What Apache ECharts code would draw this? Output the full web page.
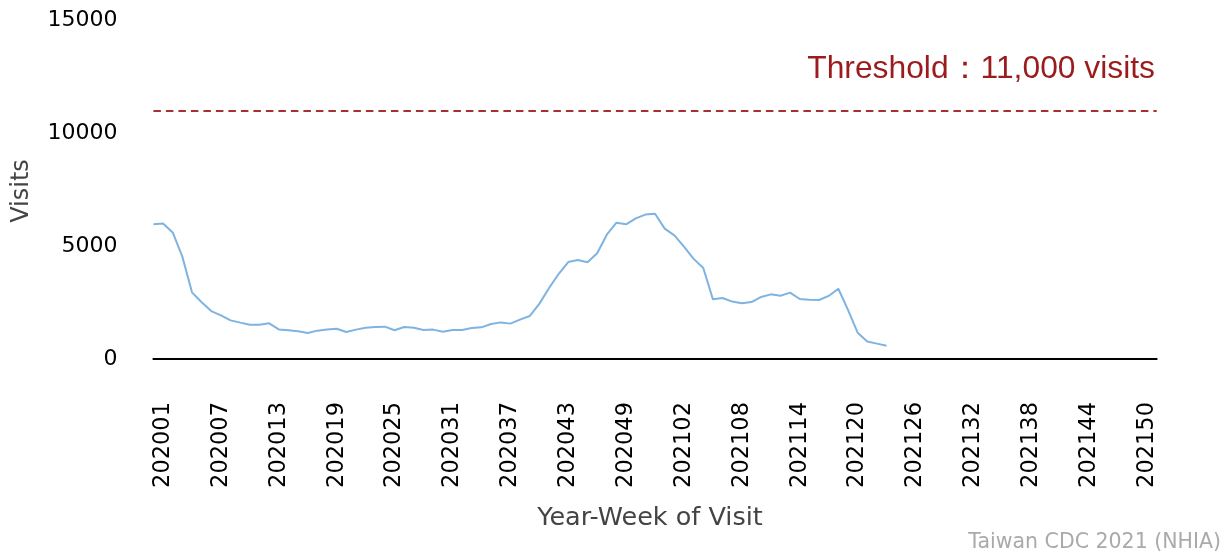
<!DOCTYPE html>
<html>
<head>
<meta charset="utf-8">
<script src="https://cdn.jsdelivr.net/npm/echarts@6/dist/echarts.min.js"></script>
<style>
html,body{margin:0;padding:0;background:#fff;}
#chart{width:1231px;height:559px;}
</style>
</head>
<body>
<div id="chart"></div>
<script>
// Year-week categories (first slot is the week before 202001, as drawn)
const years = [2020, 2021];
const weeksPerYear = [53, 51];
const categories = ['201952'];
years.forEach((y, k) => {
  for (let w = 1; w <= weeksPerYear[k]; w++) {
    categories.push(String(y) + String(w).padStart(2, '0'));
  }
});

// Weekly visits
const visits = [
  5960, 6000, 5600, 4530, 2950, 2510, 2120, 1930, 1710, 1610,
  1520, 1520, 1580, 1310, 1270, 1225, 1150, 1255, 1310, 1340,
  1195, 1300, 1385, 1415, 1430, 1270, 1415, 1385, 1285, 1300,
  1210, 1285, 1285, 1370, 1400, 1550, 1620, 1565, 1740, 1900,
  2440, 3130, 3760, 4290, 4380, 4280, 4680, 5500, 6030, 5960,
  6220, 6390, 6430, 5770, 5470, 4970, 4430, 4030, 2640, 2700,
  2540, 2465, 2520, 2745, 2860, 2800, 2935, 2655, 2625, 2610,
  2790, 3110, 2170, 1165, 770, 680, 590
];

const threshold = 11000;
const yTicks = [0, 5000, 10000, 15000];

const chart = echarts.init(document.getElementById('chart'), null, {renderer: 'canvas'});
chart.setOption({
  animation: false,
  backgroundColor: '#ffffff',
  grid: {left: 153.4, right: 74.3, top: 20, bottom: 200, containLabel: false},
  xAxis: {
    type: 'category',
    data: categories,
    boundaryGap: false,
    axisLine: {show: true, lineStyle: {color: '#000', width: 2}},
    axisTick: {show: false},
    splitLine: {show: false},
    axisLabel: {
      rotate: 90,
      margin: 43,
      color: '#000',
      fontFamily: 'DejaVu Sans',
      fontSize: 22.5,
      interval: function (index) { return index % 6 === 1; }
    }
  },
  yAxis: {
    type: 'value',
    min: yTicks[0],
    max: yTicks[yTicks.length - 1],
    interval: 5000,
    axisLine: {show: false},
    axisTick: {show: false},
    splitLine: {show: false},
    axisLabel: {
      margin: 36,
      color: '#000',
      fontFamily: 'DejaVu Sans',
      fontSize: 22,
      formatter: function (v) { return String(v); }
    }
  },
  series: [{
    type: 'line',
    data: visits,
    showSymbol: false,
    symbol: 'none',
    lineStyle: {color: '#7fb3e0', width: 2},
    markLine: {
      silent: true,
      symbol: 'none',
      label: {show: false},
      lineStyle: {color: '#a83030', width: 1.8, type: [7.5, 5]},
      data: [{yAxis: threshold}]
    }
  }],
  graphic: [
    {
      type: 'text', right: 76, top: 53,
      style: {text: 'Threshold：11,000 visits', fill: '#9a1c1e',
              font: '31.8px "Liberation Sans", Arial, sans-serif'}
    },
    {
      type: 'text', x: 650, y: 518,
      style: {text: 'Year-Week of Visit', fill: '#444', align: 'center', verticalAlign: 'middle',
              font: '25.5px "DejaVu Sans"'}
    },
    {
      type: 'text', x: 22, y: 191, rotation: Math.PI / 2,
      style: {text: 'Visits', fill: '#444', align: 'center', verticalAlign: 'middle',
              font: '24px "DejaVu Sans"'}
    },
    {
      type: 'text', right: 10, y: 543,
      style: {text: 'Taiwan CDC 2021 (NHIA)', fill: '#aaa', verticalAlign: 'middle',
              font: '20.5px "DejaVu Sans"'}
    }
  ]
});
</script>
</body>
</html>
